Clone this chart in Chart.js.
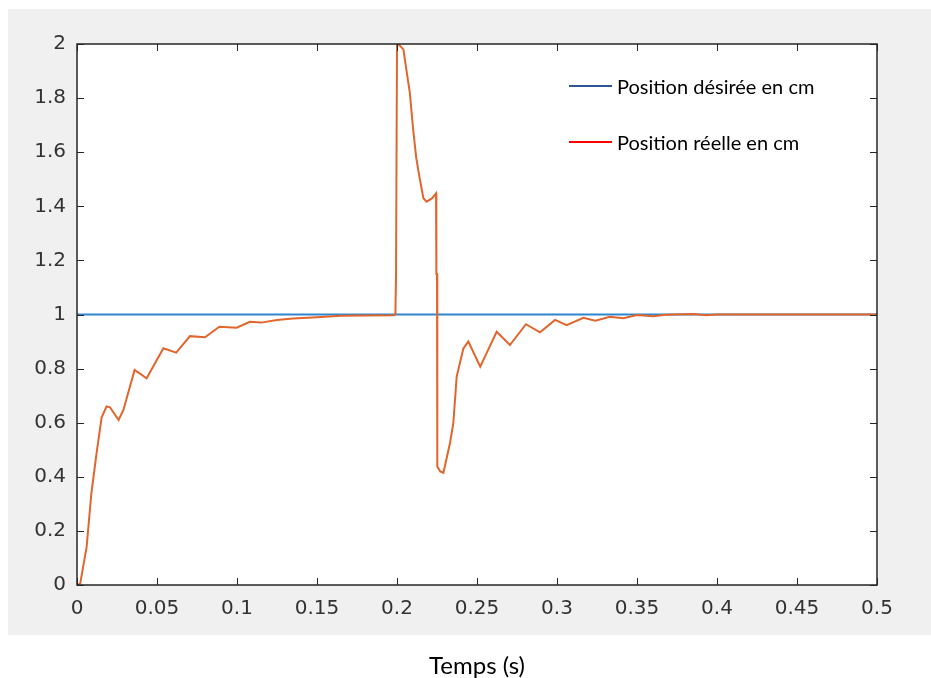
<!DOCTYPE html>
<html>
<head>
<meta charset="utf-8">
<script src="https://cdn.jsdelivr.net/npm/chart.js@4"></script>
<style>
  html, body { margin: 0; padding: 0; background: #fff; }
  #wrap { position: relative; width: 931px; height: 678px; }
  canvas { position: absolute; left: 0; top: 0; }
  .leg { position: absolute; font-family: 'Lato', 'Liberation Sans', sans-serif; font-size: 20px; color: #000; white-space: nowrap; line-height: 20px; }
  .legline { position: absolute; height: 2px; width: 43px; }
  #xtitle { position: absolute; left: 0; width: 954px; text-align: center; top: 650px; font-family: 'Lato', 'Liberation Sans', sans-serif; font-size: 24px; color: #000; }
</style>
</head>
<body>
<div id="wrap">
  <canvas id="simChart" width="931" height="678"></canvas>
  <div class="legline" style="left:569px; top:85px; background:#2f5597;"></div>
  <div class="leg" style="left:617px; top:76px;">Position désirée en cm</div>
  <div class="legline" style="left:569px; top:141px; background:#ff0000;"></div>
  <div class="leg" style="left:617px; top:132px;">Position réelle en cm</div>
  <div id="xtitle">Temps (s)</div>
</div>
<script>
// time axis (s) and measured position (cm)
const tReal = [0, 0.002, 0.006, 0.009, 0.0123, 0.0154, 0.0185, 0.0206, 0.026, 0.029,
  0.036, 0.0435, 0.054, 0.062, 0.0706, 0.08, 0.089, 0.0998, 0.108, 0.115,
  0.125, 0.135, 0.15, 0.165, 0.198, 0.199, 0.1994, 0.1998, 0.2, 0.2008,
  0.204, 0.206, 0.208, 0.21, 0.212, 0.214, 0.2165, 0.2185, 0.222, 0.2244,
  0.2246, 0.225, 0.2252, 0.227, 0.229, 0.2331, 0.2352, 0.2373, 0.2415, 0.2446,
  0.252, 0.256, 0.2623, 0.2706, 0.2806, 0.2894, 0.2988, 0.306, 0.3165, 0.324,
  0.333, 0.3415, 0.35, 0.36, 0.368, 0.385, 0.3935, 0.4, 0.5];
const yReal = [0, 0.005, 0.14, 0.34, 0.49, 0.62, 0.66, 0.657, 0.61, 0.647,
  0.795, 0.764, 0.875, 0.859, 0.92, 0.916, 0.955, 0.951, 0.973, 0.97,
  0.98, 0.985, 0.99, 0.995, 0.997, 1.0, 1.152, 1.152, 2.0, 2.0,
  1.98, 1.90, 1.82, 1.69, 1.58, 1.51, 1.43, 1.417, 1.43, 1.448,
  1.15, 1.15, 0.437, 0.42, 0.415, 0.524, 0.598, 0.77, 0.875, 0.9,
  0.807, 0.857, 0.936, 0.887, 0.964, 0.934, 0.98, 0.961, 0.988, 0.977,
  0.992, 0.986, 0.998, 0.994, 0.999, 1.002, 0.997, 1.0, 1.0];

// desired position (cm)
const tDesired = [0, 0.5];
const yDesired = [1, 1];

const xTicks = [0, 0.05, 0.1, 0.15, 0.2, 0.25, 0.3, 0.35, 0.4, 0.45, 0.5];
const xTickLabels = ['0', '0.05', '0.1', '0.15', '0.2', '0.25', '0.3', '0.35', '0.4', '0.45', '0.5'];
const yTicks = [0, 0.2, 0.4, 0.6, 0.8, 1, 1.2, 1.4, 1.6, 1.8, 2];
const yTickLabels = ['0', '0.2', '0.4', '0.6', '0.8', '1', '1.2', '1.4', '1.6', '1.8', '2'];

const axisColor = '#262626';

// grey figure background + MATLAB style box with inward ticks
const figurePlugin = {
  id: 'figure',
  beforeDraw(chart) {
    const ctx = chart.ctx;
    const a = chart.chartArea;
    ctx.save();
    ctx.fillStyle = '#f0f0f0';
    ctx.fillRect(8, 9, 923, 626);
    ctx.fillStyle = '#ffffff';
    ctx.fillRect(a.left, a.top, a.right - a.left, a.bottom - a.top);
    ctx.restore();
  },
  afterDraw(chart) {
    const ctx = chart.ctx;
    const a = chart.chartArea;
    const xs = chart.scales.x, ys = chart.scales.y;
    const tl = 7;
    ctx.save();
    ctx.strokeStyle = axisColor;
    ctx.lineWidth = 1;
    ctx.beginPath();
    xTicks.forEach(v => {
      const px = Math.round(xs.getPixelForValue(v)) + 0.5;
      ctx.moveTo(px, a.bottom); ctx.lineTo(px, a.bottom - tl);
      ctx.moveTo(px, a.top); ctx.lineTo(px, a.top + tl);
    });
    yTicks.forEach(v => {
      const py = Math.round(ys.getPixelForValue(v)) + 0.5;
      ctx.moveTo(a.left, py); ctx.lineTo(a.left + tl, py);
      ctx.moveTo(a.right, py); ctx.lineTo(a.right - tl, py);
    });
    ctx.stroke();
    ctx.lineWidth = 1.5;
    ctx.strokeRect(a.left, a.top, a.right - a.left, a.bottom - a.top);
    ctx.restore();
  }
};

const ctx = document.getElementById('simChart').getContext('2d');

new Chart(ctx, {
  type: 'line',
  data: {
    datasets: [{
      label: 'Position réelle en cm',
      data: tReal.map((t, i) => ({ x: t, y: yReal[i] })),
      borderColor: '#e2652c',
      borderWidth: 2,
      pointRadius: 0,
      tension: 0,
      order: 0
    }, {
      label: 'Position désirée en cm',
      data: tDesired.map((t, i) => ({ x: t, y: yDesired[i] })),
      borderColor: '#2f86cf',
      borderWidth: 1.8,
      pointRadius: 0,
      tension: 0,
      order: 1
    }]
  },
  options: {
    responsive: false,
    animation: false,
    layout: { padding: { top: 44, right: 54, left: 0, bottom: 0 } },
    plugins: {
      legend: { display: false },
      tooltip: { enabled: false }
    },
    scales: {
      x: {
        type: 'linear',
        min: 0,
        max: 0.5,
        grid: { display: false, drawTicks: false },
        border: { display: false },
        afterBuildTicks: s => { s.ticks = xTicks.map(v => ({ value: v })); },
        afterFit: s => { s.height = 93; },
        ticks: {
          autoSkip: false,
          maxRotation: 0,
          padding: 12,
          color: '#333333',
          font: { family: 'DejaVu Sans', size: 20 },
          callback: (v, i) => xTickLabels[i]
        }
      },
      y: {
        type: 'linear',
        min: 0,
        max: 2,
        grid: { display: false, drawTicks: false },
        border: { display: false },
        afterBuildTicks: s => { s.ticks = yTicks.map(v => ({ value: v })); },
        afterFit: s => { s.width = 77; },
        ticks: {
          autoSkip: false,
          padding: 11,
          color: '#333333',
          font: { family: 'DejaVu Sans', size: 20 },
          callback: (v, i) => yTickLabels[i]
        }
      }
    }
  },
  plugins: [figurePlugin]
});
</script>
</body>
</html>
